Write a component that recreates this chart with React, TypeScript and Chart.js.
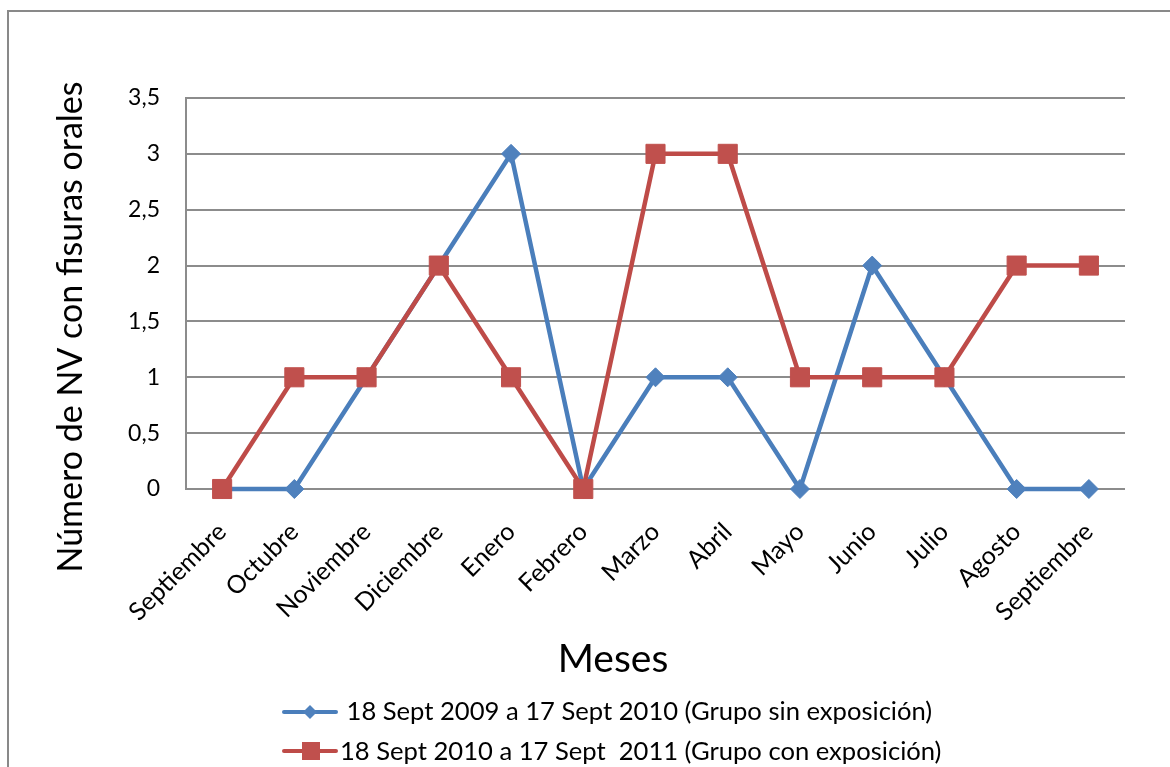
import React, { useEffect, useRef } from "react";
import { Chart, registerables } from "chart.js";

Chart.register(...registerables);

// ---- data ----
const months = [
  "Septiembre", "Octubre", "Noviembre", "Diciembre", "Enero", "Febrero",
  "Marzo", "Abril", "Mayo", "Junio", "Julio", "Agosto", "Septiembre",
];
const sinExposicion = [0, 0, 1, 2, 3, 0, 1, 1, 0, 2, 1, 0, 0];
const conExposicion = [0, 1, 1, 2, 1, 0, 3, 3, 1, 1, 1, 2, 2];
const seriesNames = [
  " 18 Sept 2009 a 17 Sept 2010 (Grupo sin exposición)",
  "18 Sept 2010 a 17 Sept  2011 (Grupo con exposición)",
];
const yMin = 0;
const yMax = 3.5;
const yStep = 0.5;
const yTitle = "Número de NV con fisuras orales";
const xTitle = "Meses";

// ---- styles ----
const FONT = "Lato";
const BLUE_LINE = "#4A7EBB";
const BLUE_FILL = "#4F81BD";
const RED_LINE = "#BE4B48";
const RED_FILL = "#C0504D";
const GRID = "#8c8c8c";

const W = 1170;
const H = 767;

const decor = {
  id: "decor",
  beforeDraw(chart: any) {
    const ctx = chart.ctx;
    ctx.save();
    ctx.fillStyle = "#ffffff";
    ctx.fillRect(0, 0, chart.width, chart.height);
    ctx.fillStyle = "#898989";
    ctx.fillRect(7, 10, 2, chart.height);
    ctx.fillRect(7, 10, chart.width, 2);
    ctx.restore();
  },
  afterDraw(chart: any) {
    const ctx = chart.ctx;
    ctx.save();
    ctx.fillStyle = "#000";
    // y title
    ctx.font = `34px ${FONT}`;
    ctx.textAlign = "center";
    ctx.textBaseline = "alphabetic";
    ctx.save();
    ctx.translate(82, 327);
    ctx.rotate(-Math.PI / 2);
    ctx.fillText(yTitle, 0, 0);
    ctx.restore();
    // x title
    ctx.font = `39px ${FONT}`;
    ctx.fillText(xTitle, 613, 672);

    // legend
    const rows = [
      { y: 712, base: 720, line: BLUE_LINE, fill: BLUE_FILL, shape: "diamond" },
      { y: 751, base: 760, line: RED_LINE, fill: RED_FILL, shape: "square" },
    ];
    rows.forEach((r, i) => {
      ctx.strokeStyle = r.line;
      ctx.lineWidth = 4;
      ctx.lineCap = "round";
      ctx.beginPath();
      ctx.moveTo(284, r.y);
      ctx.lineTo(336, r.y);
      ctx.stroke();
      ctx.fillStyle = r.fill;
      if (r.shape === "diamond") {
        ctx.beginPath();
        ctx.moveTo(310, r.y - 7);
        ctx.lineTo(317, r.y);
        ctx.lineTo(310, r.y + 7);
        ctx.lineTo(303, r.y);
        ctx.closePath();
        ctx.fill();
      } else {
        ctx.fillRect(302, r.y - 9, 18, 18);
      }
      ctx.fillStyle = "#000";
      ctx.font = `25.6px ${FONT}`;
      ctx.textAlign = "left";
      ctx.fillText(seriesNames[i], 340, r.base);
    });
    ctx.restore();
  },
};

export default function App() {
  const ref = useRef<HTMLCanvasElement | null>(null);

  useEffect(() => {
    if (!ref.current) return;
    const chart = new Chart(ref.current, {
      type: "line",
      data: {
        labels: months,
        datasets: [
          {
            label: seriesNames[0],
            data: sinExposicion,
            borderColor: BLUE_LINE,
            backgroundColor: BLUE_FILL,
            borderWidth: 4.5,
            pointStyle: "rectRot",
            pointRadius: 9.5,
            pointBorderWidth: 1,
            pointBorderColor: BLUE_FILL,
            pointBackgroundColor: BLUE_FILL,
            tension: 0,
            clip: false,
            order: 1,
          },
          {
            label: seriesNames[1],
            data: conExposicion,
            borderColor: RED_LINE,
            backgroundColor: RED_FILL,
            borderWidth: 4.5,
            pointStyle: "rect",
            pointRadius: 13.5,
            pointBorderWidth: 1,
            pointBorderColor: RED_FILL,
            pointBackgroundColor: RED_FILL,
            tension: 0,
            clip: false,
            order: 0,
          },
        ],
      },
      options: {
        animation: false,
        responsive: false,
        devicePixelRatio: 1,
        layout: { padding: { left: 0, top: 98, right: 45, bottom: 0 } },
        plugins: {
          legend: { display: false },
          tooltip: { enabled: false },
          title: { display: false },
        },
        scales: {
          x: {
            type: "category",
            offset: true,
            grid: { display: false, drawTicks: false },
            border: { display: false },
            ticks: {
              autoSkip: false,
              maxRotation: 45,
              minRotation: 45,
              padding: 28,
              color: "#000",
              font: { family: FONT, size: 25 },
            },
            afterFit(scale: any) {
              scale.height = H - 489;
            },
          },
          y: {
            min: yMin,
            max: yMax,
            grid: { color: GRID, lineWidth: 2, drawTicks: false },
            border: { display: true, color: GRID, width: 2 },
            ticks: {
              stepSize: yStep,
              padding: 26,
              color: "#000",
              font: { family: FONT, size: 23 },
              callback: (v: any) => String(v).replace(".", ","),
            },
            afterFit(scale: any) {
              scale.width = 186;
            },
          },
        },
      },
      plugins: [decor],
    });
    return () => chart.destroy();
  }, []);

  return (
    <div style={{ position: "fixed", left: 0, top: 0, width: W, height: H, background: "#fff" }}>
      <canvas ref={ref} width={W} height={H} style={{ display: "block", width: W, height: H }} />
    </div>
  );
}
